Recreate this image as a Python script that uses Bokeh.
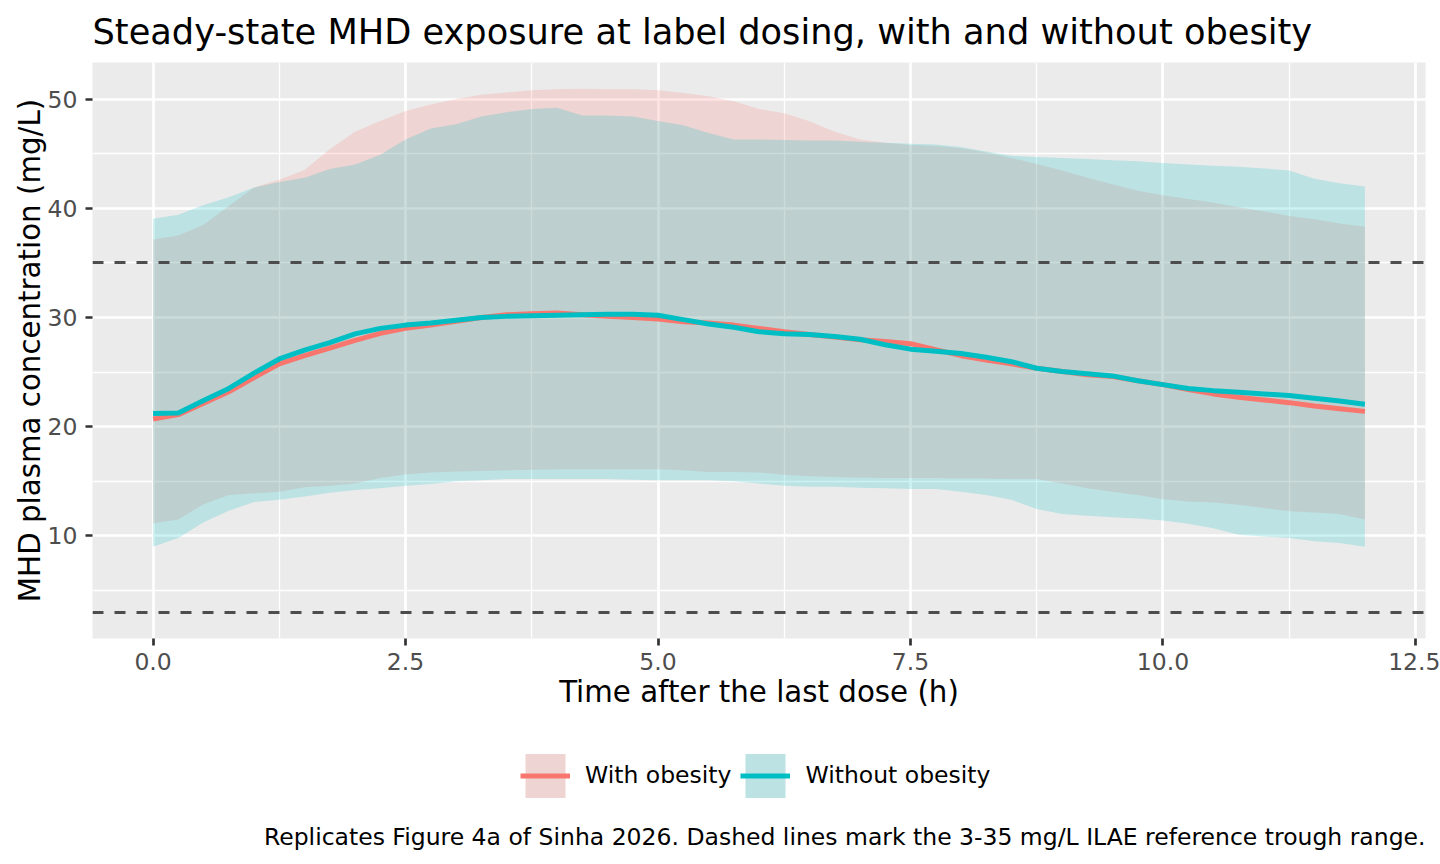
from bokeh.plotting import figure
from bokeh.models import ColumnDataSource, Range1d, FixedTicker, Legend, LegendItem, Label
from bokeh.layouts import column
from bokeh.embed import file_html
from bokeh.resources import INLINE

# ---------------- data ----------------
time_h = [0.0, 0.25, 0.5, 0.75, 1.0, 1.25, 1.5, 1.75, 2.0, 2.25, 2.5, 2.75, 3.0,
          3.25, 3.5, 3.75, 4.0, 4.25, 4.5, 4.75, 5.0, 5.25, 5.5, 5.75, 6.0,
          6.25, 6.5, 6.75, 7.0, 7.25, 7.5, 7.75, 8.0, 8.25, 8.5, 8.75, 9.0,
          9.25, 9.5, 9.75, 10.0, 10.25, 10.5, 10.75, 11.0, 11.25, 11.5, 11.75, 12.0]

obese_mean = [20.7, 21.1, 22.15, 23.2, 24.5, 25.75, 26.5, 27.2, 27.9, 28.55, 29.0, 29.3, 29.65,
              30.0, 30.25, 30.35, 30.4, 30.25, 30.1, 30.0, 29.85, 29.6, 29.5, 29.3, 29.0,
              28.7, 28.45, 28.2, 27.95, 27.8, 27.6, 27.05, 26.5, 26.1, 25.75, 25.35, 25.05,
              24.75, 24.6, 24.2, 23.85, 23.4, 23.0, 22.7, 22.45, 22.2, 21.9, 21.65, 21.4]
obese_lo = [11.15, 11.5, 12.9, 13.75, 13.9, 14.05, 14.45, 14.6, 14.8, 15.3, 15.65, 15.8, 15.9,
            15.95, 16.0, 16.05, 16.1, 16.1, 16.1, 16.1, 16.1, 16.0, 15.85, 15.85, 15.8,
            15.6, 15.45, 15.4, 15.35, 15.3, 15.3, 15.3, 15.25, 15.25, 15.2, 15.2, 14.8,
            14.35, 14.05, 13.75, 13.35, 13.15, 13.05, 12.85, 12.55, 12.25, 12.15, 12.0, 11.5]
obese_hi = [37.13, 37.5, 38.5, 40.2, 41.9, 42.6, 43.5, 45.4, 47.0, 48.0, 48.9, 49.5, 50.0,
            50.4, 50.6, 50.8, 50.9, 50.95, 50.9, 50.9, 50.8, 50.55, 50.25, 49.8, 49.1,
            48.7, 47.96, 47.0, 46.3, 46.0, 45.8, 45.7, 45.5, 45.1, 44.6, 44.05, 43.45,
            42.8, 42.2, 41.6, 41.2, 40.85, 40.5, 40.1, 39.7, 39.3, 39.0, 38.6, 38.3]

lean_mean = [21.2, 21.25, 22.4, 23.5, 24.9, 26.2, 27.0, 27.7, 28.5, 29.0, 29.3, 29.5, 29.75,
             30.0, 30.1, 30.15, 30.2, 30.25, 30.3, 30.3, 30.2, 29.8, 29.4, 29.1, 28.7,
             28.5, 28.45, 28.25, 28.0, 27.5, 27.1, 26.9, 26.7, 26.35, 25.95, 25.35, 25.05,
             24.85, 24.65, 24.2, 23.85, 23.5, 23.3, 23.15, 23.0, 22.85, 22.6, 22.35, 22.05]
lean_lo = [9.0, 9.8, 11.25, 12.3, 13.1, 13.3, 13.6, 13.95, 14.2, 14.35, 14.6, 14.75, 15.0,
           15.1, 15.2, 15.2, 15.2, 15.2, 15.2, 15.15, 15.1, 15.1, 15.1, 15.0, 14.8,
           14.6, 14.5, 14.5, 14.4, 14.35, 14.3, 14.3, 14.05, 13.75, 13.3, 12.45, 12.0,
           11.85, 11.7, 11.6, 11.4, 11.1, 10.7, 10.1, 9.95, 9.8, 9.5, 9.35, 9.0]
lean_hi = [39.05, 39.4, 40.3, 41.0, 41.9, 42.4, 42.8, 43.6, 44.0, 44.9, 46.3, 47.3, 47.7,
           48.4, 48.8, 49.1, 49.2, 48.5, 48.5, 48.4, 48.0, 47.6, 46.9, 46.3, 46.3,
           46.25, 46.2, 46.2, 46.1, 46.0, 45.9, 45.85, 45.6, 45.2, 44.8, 44.7, 44.6,
           44.5, 44.4, 44.3, 44.15, 44.0, 43.9, 43.8, 43.65, 43.45, 42.7, 42.3, 42.0]

groups = ["With obesity", "Without obesity"]
colors = ["#F8766D", "#00BFC4"]
ribbon_alpha = 0.2
panel_bg = "#EBEBEB"
trough_range = [3, 35]

x_ticks = [0, 2.5, 5, 7.5, 10, 12.5]
x_tick_labels = ["0.0", "2.5", "5.0", "7.5", "10.0", "12.5"]
x_minor = [1.25, 3.75, 6.25, 8.75, 11.25]
y_ticks = [10, 20, 30, 40, 50]
y_tick_labels = ["10", "20", "30", "40", "50"]
y_minor = [5, 15, 25, 35, 45]

title_text = "Steady-state MHD exposure at label dosing, with and without obesity"
x_title = "Time after the last dose (h)"
y_title = "MHD plasma concentration (mg/L)"
caption = ("Replicates Figure 4a of Sinha 2026. Dashed lines mark the 3-35 mg/L "
           "ILAE reference trough range.")

FONT = "DejaVu Sans"
W = 1440
H_MAIN, H_LEG = 724, 140
B_LEFT, B_RIGHT = 92, 15
FRAME_W = W - B_LEFT - B_RIGHT

# ggplot-like expanded ranges (5 % on each side)
x_lo, x_hi = min(time_h), max(time_h)
x_pad = 0.05 * (x_hi - x_lo)
y_lo = min(min(obese_lo), min(lean_lo), min(trough_range))
y_hi = max(max(obese_hi), max(lean_hi), max(trough_range))
y_pad = 0.05 * (y_hi - y_lo)

# ======================= main panel =======================
p = figure(width=W, height=H_MAIN,
           x_range=Range1d(x_lo - x_pad, x_hi + x_pad),
           y_range=Range1d(y_lo - y_pad, y_hi + y_pad),
           output_backend="svg", toolbar_location=None,
           min_border_left=B_LEFT, min_border_right=B_RIGHT, min_border_top=62,
           min_border_bottom=86,
           background_fill_color=panel_bg, border_fill_color="white",
           outline_line_color=None)

p.title.text = title_text
p.title.align = "left"
p.title.vertical_align = "top"
p.title.text_font = FONT
p.title.text_font_size = "35.2px"
p.title.text_font_style = "normal"
p.title.text_color = "black"
p.title.standoff = 18

p.xaxis.ticker = FixedTicker(ticks=x_ticks, minor_ticks=x_minor)
p.yaxis.ticker = FixedTicker(ticks=y_ticks, minor_ticks=y_minor)
for g in (p.xgrid, p.ygrid):
    g.grid_line_color = "white"
    g.grid_line_width = 2.7
    g.minor_grid_line_color = "white"
    g.minor_grid_line_width = 1.35

p.xaxis.major_label_overrides = {t: l for t, l in zip(x_ticks, x_tick_labels)}
p.yaxis.major_label_overrides = {t: l for t, l in zip(y_ticks, y_tick_labels)}

for ax in (p.xaxis, p.yaxis):
    ax.axis_line_color = None
    ax.major_tick_line_color = "#333333"
    ax.major_tick_line_width = 2.7
    ax.major_tick_out = 7
    ax.major_tick_in = 0
    ax.minor_tick_line_color = None
    ax.major_label_text_font = FONT
    ax.major_label_text_font_size = "23.5px"
    ax.major_label_text_color = "#4D4D4D"
    ax.axis_label_text_font = FONT
    ax.axis_label_text_font_size = "29.3px"
    ax.axis_label_text_font_style = "normal"
    ax.axis_label_text_color = "black"

p.xaxis.axis_label = x_title
p.yaxis.axis_label = y_title
p.xaxis.major_label_standoff = 7
p.xaxis.axis_label_standoff = 2
p.yaxis.major_label_standoff = 8
p.yaxis.axis_label_standoff = -2

src = ColumnDataSource(dict(t=time_h,
                            ob_lo=obese_lo, ob_hi=obese_hi, ob_mean=obese_mean,
                            le_lo=lean_lo, le_hi=lean_hi, le_mean=lean_mean))

p.varea(x="t", y1="ob_lo", y2="ob_hi", source=src,
        fill_color=colors[0], fill_alpha=ribbon_alpha)
p.varea(x="t", y1="le_lo", y2="le_hi", source=src,
        fill_color=colors[1], fill_alpha=ribbon_alpha)

p.hspan(y=trough_range, line_color="#4D4D4D", line_width=2.8, line_dash="11 11")

p.line(x="t", y="ob_mean", source=src, line_color=colors[0], line_width=5)
p.line(x="t", y="le_mean", source=src, line_color=colors[1], line_width=5)

# ======================= legend + caption strip =======================
def blend(hex_color, alpha, bg):
    c = [int(hex_color[i:i + 2], 16) for i in (1, 3, 5)]
    b = [int(bg[i:i + 2], 16) for i in (1, 3, 5)]
    return "#" + "".join("%02X" % round(b[k] + alpha * (c[k] - b[k])) for k in range(3))

# (the column layout aligns this strip's frame with the main panel: 92 .. 1425 px)
q = figure(width=W, height=H_LEG, x_range=Range1d(-2, -1), y_range=Range1d(0, 1),
           output_backend="svg", toolbar_location=None,
           x_axis_location=None, y_axis_location=None,
           min_border_left=B_LEFT, min_border_right=B_RIGHT, min_border_top=0,
           min_border_bottom=0,
           background_fill_color="white", border_fill_color="white",
           outline_line_color=None)
q.xgrid.visible = False
q.ygrid.visible = False

# legend proxies: same series, kept outside this strip's visible range
k_ob = q.varea(x="t", y1="ob_lo", y2="ob_hi", source=src,
               fill_color=blend(colors[0], ribbon_alpha, panel_bg), fill_alpha=1.0)
k_le = q.varea(x="t", y1="le_lo", y2="le_hi", source=src,
               fill_color=blend(colors[1], ribbon_alpha, panel_bg), fill_alpha=1.0)
m_ob = q.line(x="t", y="ob_mean", source=src, line_color=colors[0], line_width=5)
m_le = q.line(x="t", y="le_mean", source=src, line_color=colors[1], line_width=5)

legend = Legend(items=[LegendItem(label=groups[0], renderers=[k_ob, m_ob]),
                       LegendItem(label=groups[1], renderers=[k_le, m_le])],
                orientation="horizontal", location=(520 - B_LEFT, 61.5),
                glyph_width=50, glyph_height=55, label_standoff=15, spacing=9,
                padding=0, margin=0, border_line_color=None,
                background_fill_alpha=0.0,
                label_text_font=FONT, label_text_font_size="23.5px",
                label_text_color="black")
q.add_layout(legend)

q.add_layout(Label(x=FRAME_W, y=28, x_units="screen", y_units="screen", text=caption,
                   text_align="right", text_baseline="middle", text_font=FONT,
                   text_font_size="23.5px", text_color="black"))

open("out.html", "w").write(file_html(column(p, q, spacing=0), INLINE))
